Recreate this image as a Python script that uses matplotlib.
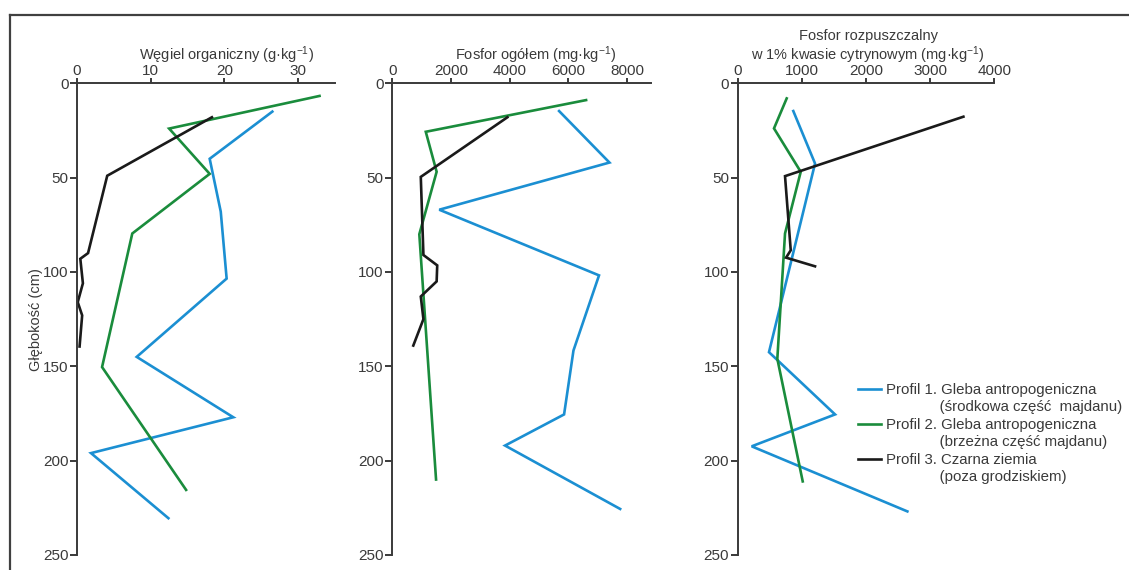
import matplotlib
matplotlib.use("Agg")
import matplotlib.pyplot as plt
from matplotlib.lines import Line2D

plt.rcParams['font.family'] = ['Liberation Sans', 'DejaVu Sans']
plt.rcParams['mathtext.fontset'] = 'custom'
plt.rcParams['mathtext.rm'] = 'Liberation Sans'
plt.rcParams['mathtext.it'] = 'Liberation Sans'

# ---------------- data ----------------
depth_ticks = [0, 50, 100, 150, 200, 250]

# Panel 1: Węgiel organiczny (g/kg)
c_p1_depth = [15, 40, 68, 103.5, 145, 177, 196, 230.5]
c_p1 = [26.5, 18.0, 19.5, 20.3, 8.1, 21.2, 1.9, 12.4]
c_p2_depth = [6.7, 24, 48, 79.6, 150.4, 215.5]
c_p2 = [32.9, 12.5, 18.0, 7.5, 3.4, 14.8]
c_p3_depth = [18, 49, 90, 93, 106, 116, 123, 139.5]
c_p3 = [18.3, 4.1, 1.5, 0.45, 0.8, 0.1, 0.7, 0.35]
c_ticks = [0, 10, 20, 30]

# Panel 2: Fosfor ogółem (mg/kg)
pt_p1_depth = [14.7, 42, 67, 101.8, 141.6, 175.5, 192, 225.6]
pt_p1 = [5680, 7395, 1600, 7040, 6170, 5850, 3840, 7760]
pt_p2_depth = [8.9, 25.7, 46.9, 80, 210]
pt_p2 = [6600, 1140, 1510, 920, 1490]
pt_p3_depth = [18, 49.6, 91, 96.5, 105, 113, 125, 139]
pt_p3 = [3920, 970, 1060, 1530, 1510, 970, 1060, 715]
pt_ticks = [0, 2000, 4000, 6000, 8000]

# Panel 3: Fosfor rozpuszczalny w 1% kwasie cytrynowym (mg/kg)
pc_p1_depth = [14.7, 42.5, 142.5, 175.5, 192.4, 226.9]
pc_p1 = [867, 1206, 488, 1518, 218, 2646]
pc_p2_depth = [8, 23.9, 46.9, 79.6, 146, 211]
pc_p2 = [764, 566, 983, 738, 618, 1014]
pc_p3_depth = [17.7, 49.2, 88.5, 92.4, 97]
pc_p3 = [3520, 738, 827, 754, 1206]
pc_ticks = [0, 1000, 2000, 3000, 4000]

titles = ["Węgiel organiczny (g·kg$^{-1}$)",
          "Fosfor ogółem (mg·kg$^{-1}$)",
          "Fosfor rozpuszczalny\nw 1% kwasie cytrynowym (mg·kg$^{-1}$)"]
legend_first = ["Profil 1. Gleba antropogeniczna",
                "Profil 2. Gleba antropogeniczna",
                "Profil 3. Czarna ziemia"]
legend_second = ["(środkowa część  majdanu)",
                 "(brzeżna część majdanu)",
                 "(poza grodziskiem)"]

# ---------------- style ----------------
col_blue = "#1b8fd2"
col_green = "#1a8c3c"
col_black = "#1a1a1a"
txt_col = "#3a3a3a"
spine_col = "#3a3a3a"
lw = 1.9
fs_title = 10.5
fs_tick = 11
fs_leg = 10.8

W, H = 1129, 570
fig = plt.figure(figsize=(W / 100, H / 100), dpi=100)

top_px, bot_px = 83.3, 555
ax_h_px = bot_px - top_px
panels = [
    (77, 335, 35, c_ticks,
     [(c_p1, c_p1_depth, col_blue), (c_p2, c_p2_depth, col_green), (c_p3, c_p3_depth, col_black)],
     0.58),
    (392.3, 650.7, 8800, pt_ticks,
     [(pt_p1, pt_p1_depth, col_blue), (pt_p2, pt_p2_depth, col_green), (pt_p3, pt_p3_depth, col_black)],
     0.556),
    (737.7, 994.2, 4000, pc_ticks,
     [(pc_p1, pc_p1_depth, col_blue), (pc_p2, pc_p2_depth, col_green), (pc_p3, pc_p3_depth, col_black)],
     0.508),
]

axes = []
for i, (l, r, xmax, xt, series, tx) in enumerate(panels):
    ax = fig.add_axes([l / W, 1 - bot_px / H, (r - l) / W, ax_h_px / H])
    ax.patch.set_alpha(0)
    lines = []
    for vals, dep, c in series:
        ln, = ax.plot(vals, dep, color=c, lw=lw, solid_joinstyle='miter', clip_on=False)
        lines.append(ln)
    ax.set_xlim(0, xmax)
    ax.set_ylim(250, 0)
    ax.set_xticks(xt)
    ax.set_yticks(depth_ticks)
    ax.xaxis.tick_top()
    for s in ['bottom', 'right']:
        ax.spines[s].set_visible(False)
    for s in ['top', 'left']:
        ax.spines[s].set_color(spine_col)
        ax.spines[s].set_linewidth(1.4)
    ax.tick_params(axis='both', direction='out', width=1.4, color=spine_col,
                   labelsize=fs_tick, labelcolor=txt_col)
    ax.tick_params(axis='y', length=5, pad=1.2)
    ax.tick_params(axis='x', length=3.3, pad=0.3)
    # title lines: last line baseline ~60 px from top, line step 20 px
    tlines = titles[i].split("\n")
    n = len(tlines)
    for k, tl in enumerate(tlines):
        base_px = 60 - 20 * (n - 1 - k)
        ty = 1 + (top_px - base_px) / ax_h_px
        ax.text(tx, ty, tl, transform=ax.transAxes, ha='center', va='baseline',
                fontsize=fs_title, color=txt_col)
    axes.append((ax, lines))

ax0 = axes[0][0]
ax0.set_ylabel("Głębokość (cm)", fontsize=fs_title, color=txt_col)
ax0.yaxis.set_label_coords(-0.13, 0.5)

# legend in panel 3
ax3, lines3 = axes[2]
blank = Line2D([], [], color='none')
handles, labels = [], []
for ln, a, b in zip(lines3, legend_first, legend_second):
    handles += [ln, blank]
    labels += [a, " " * 13 + b]
leg = ax3.legend(handles, labels, loc='upper left',
                 bbox_to_anchor=(858 / W, 1 - 383 / H), bbox_transform=fig.transFigure,
                 frameon=False, fontsize=fs_leg, handlelength=1.5, handletextpad=0.35,
                 labelspacing=0.23, borderpad=0, borderaxespad=0)
for t in leg.get_texts():
    t.set_color(txt_col)

# outer frame
fy = 1 - 15 / H
fx = 9.5 / W
fig.add_artist(Line2D([fx, 1], [fy, fy], transform=fig.transFigure, color="#404040", lw=1.6))
fig.add_artist(Line2D([fx, fx], [0, fy], transform=fig.transFigure, color="#404040", lw=1.6))

fig.savefig("out.png", dpi=100)
